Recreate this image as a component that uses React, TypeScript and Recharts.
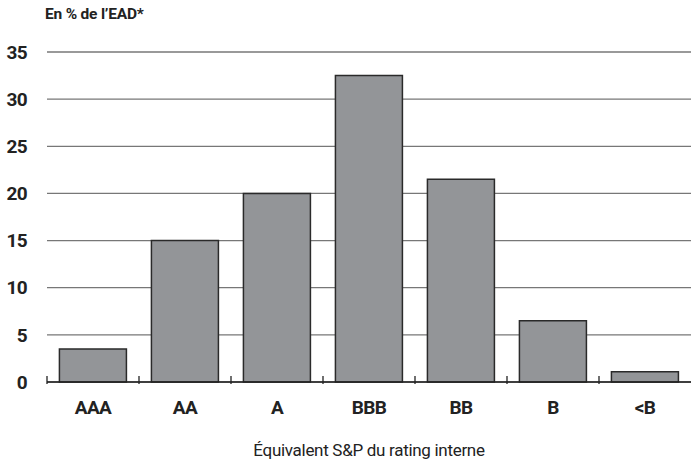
import React from 'react';
import { BarChart, Bar, XAxis, YAxis, CartesianGrid } from 'recharts';

const ratings = ['AAA', 'AA', 'A', 'BBB', 'BB', 'B', '<B'];
const shares = [3.5, 15, 20, 32.5, 21.5, 6.5, 1.1];
const yTicks = [0, 5, 10, 15, 20, 25, 30, 35];

const data = ratings.map((rating, i) => ({ rating, value: shares[i] }));

const FONT = 'Roboto, "Liberation Sans", sans-serif';
const CHART_W = 691;
const Y_AXIS_W = 47;
const HALF_BAND = (CHART_W - Y_AXIS_W) / ratings.length / 2;

// category label + small upward tick at the left edge of each band
const RatingTick = (props: any) => {
    const { x, y, payload } = props;
    const half = payload.offset || HALF_BAND;
    return (
        <g>
            <line x1={x - half} x2={x - half} y1={y} y2={y - 8} stroke="#222" strokeWidth={1.3} />
            <text x={x} y={y + 30} textAnchor="middle" fontFamily={FONT} fontWeight={700} fontSize={19} letterSpacing={-0.6} fill="#222">
                {payload.value}
            </text>
        </g>
    );
};

const App: React.FC = () => {
    return (
        <div style={{ position: 'absolute', left: 0, top: 0, width: CHART_W, height: 462, background: '#fff' }}>
            <div style={{ position: 'absolute', left: 45, top: 5, fontFamily: FONT, fontWeight: 700, fontSize: 15.5, letterSpacing: -0.2, color: '#222' }}>
                En % de l’EAD*
            </div>
            <BarChart
                width={CHART_W}
                height={462}
                data={data}
                margin={{ top: 52, right: 0, bottom: 0, left: 0 }}
                barCategoryGap="13.5%"
            >
                <CartesianGrid vertical={false} stroke="#777" strokeWidth={1.3} />
                <XAxis
                    dataKey="rating"
                    height={80}
                    axisLine={{ stroke: '#222', strokeWidth: 1.5 }}
                    tickLine={false}
                    tickSize={0}
                    tick={<RatingTick />}
                    interval={0}
                    label={{
                        value: 'Équivalent S&P du rating interne',
                        position: 'insideBottom',
                        offset: 6,
                        fontFamily: FONT,
                        fontSize: 17,
                        letterSpacing: -0.3,
                        fill: '#222',
                    }}
                />
                <YAxis
                    width={Y_AXIS_W}
                    domain={[0, 35]}
                    ticks={yTicks}
                    axisLine={false}
                    tickLine={false}
                    tickMargin={14}
                    tick={{ fontFamily: FONT, fontWeight: 700, fontSize: 19, letterSpacing: -0.6, fill: '#222' }}
                />
                <Bar dataKey="value" fill="#939598" stroke="#2a2a2a" strokeWidth={1.5} isAnimationActive={false} />
            </BarChart>
        </div>
    );
};

export default App;
